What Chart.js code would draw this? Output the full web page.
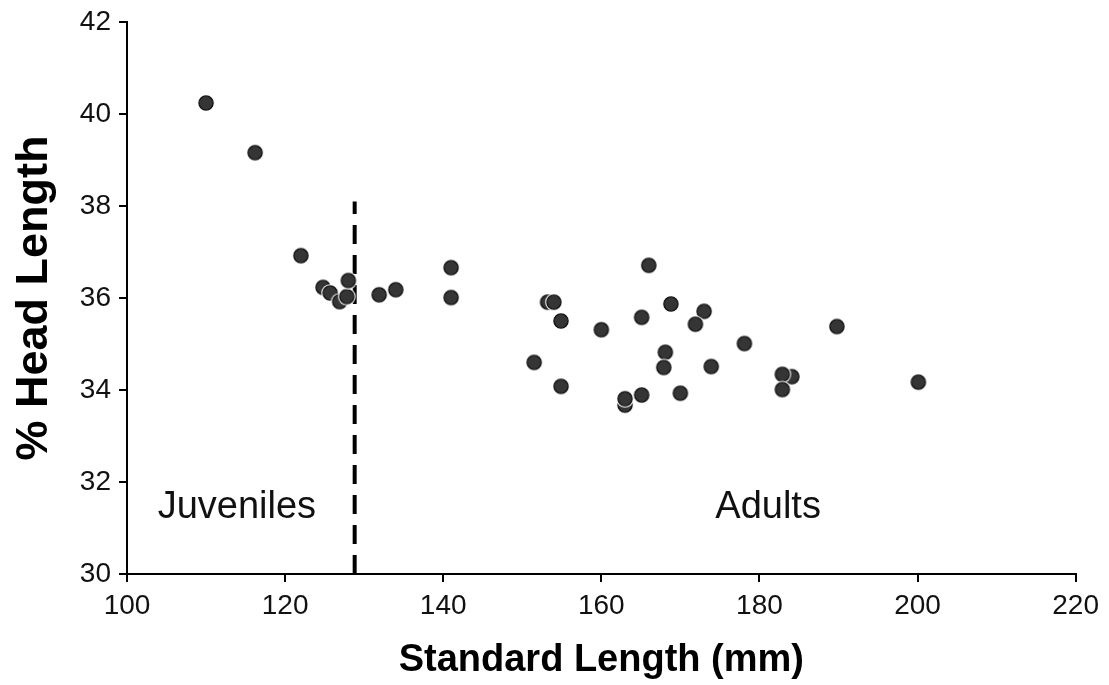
<!DOCTYPE html>
<html>
<head>
<meta charset="utf-8">
<style>
    body {
        margin: 0;
        background: #ffffff;
    }
    #chart {
        display: block;
    }
</style>
</head>
<body>
<canvas id="chart" width="1109" height="685"></canvas>

<script src="https://cdn.jsdelivr.net/npm/chart.js"></script>
<script>
    // standard length (mm) and % head length for each fish
    const standardLength = [110, 116.2, 122, 124.8, 125.7, 126.9, 127.8, 128.0, 131.9, 134.0,
        141.0, 141.0, 166.0, 153.2, 154.0, 154.9, 160.0, 165.1, 168.8, 173.0,
        171.9, 178.1, 151.5, 168.1, 167.9, 173.9, 154.9, 163.0, 163.0, 165.1,
        170.0, 189.8, 184.1, 182.9, 182.9, 200.1];
    const headLength = [40.24, 39.16, 36.92, 36.23, 36.11, 35.92, 36.03, 36.38, 36.07, 36.18,
        36.66, 36.01, 36.71, 35.91, 35.91, 35.50, 35.31, 35.58, 35.87, 35.71,
        35.43, 35.01, 34.60, 34.82, 34.49, 34.51, 34.08, 33.67, 33.81, 33.89,
        33.93, 35.38, 34.29, 34.34, 34.01, 34.17];

    // dashed divider between juveniles and adults
    const dividerX = [128.8, 128.8];
    const dividerY = [30, 38.1];

    const groupLabels = ['Juveniles', 'Adults'];
    const groupLabelX = [113.9, 181.1];
    const groupLabelY = [31.45, 31.45];

    const xTicks = [100, 120, 140, 160, 180, 200, 220];
    const yTicks = [30, 32, 34, 36, 38, 40, 42];

    const FONT = "'Liberation Sans', Arial, Helvetica, sans-serif";

    // marker: dark dot with a thin white halo
    function makeDot() {
        const c = document.createElement('canvas');
        c.width = 20;
        c.height = 20;
        const g = c.getContext('2d');
        g.beginPath();
        g.arc(10, 10, 8.8, 0, Math.PI * 2);
        g.fillStyle = '#ffffff';
        g.fill();
        g.beginPath();
        g.arc(10, 10, 7.1, 0, Math.PI * 2);
        g.fillStyle = '#353535';
        g.fill();
        g.lineWidth = 1.3;
        g.strokeStyle = '#111111';
        g.stroke();
        return c;
    }

    const groupText = {
        id: 'groupText',
        afterDatasetsDraw(chart) {
            const ctx = chart.ctx;
            const xs = chart.scales.x, ys = chart.scales.y;
            ctx.save();
            ctx.font = '38px ' + FONT;
            ctx.fillStyle = '#111111';
            ctx.textAlign = 'center';
            ctx.textBaseline = 'middle';
            groupLabels.forEach(function (t, i) {
                ctx.fillText(t, xs.getPixelForValue(groupLabelX[i]), ys.getPixelForValue(groupLabelY[i]));
            });
            ctx.restore();
        }
    };

    const points = standardLength.map(function (v, i) { return { x: v, y: headLength[i] }; });
    const divider = dividerX.map(function (v, i) { return { x: v, y: dividerY[i] }; });

    new Chart(document.getElementById('chart'), {
        type: 'scatter',
        data: {
            datasets: [{
                data: divider,
                type: 'line',
                showLine: true,
                borderColor: '#000000',
                borderWidth: 4,
                borderDash: [19, 11],
                pointRadius: 0,
                order: 2
            }, {
                data: points,
                pointStyle: makeDot(),
                pointRadius: 8,
                order: 1
            }]
        },
        options: {
            responsive: false,
            animation: false,
            layout: { padding: { top: 21, right: 33, left: 0, bottom: 0 } },
            plugins: {
                legend: { display: false },
                tooltip: { enabled: false }
            },
            scales: {
                x: {
                    type: 'linear',
                    min: 100,
                    max: 220,
                    afterBuildTicks(s) { s.ticks = xTicks.map(function (v) { return { value: v }; }); },
                    afterFit(s) { s.height = 111; },
                    grid: { drawOnChartArea: false, drawTicks: true, tickLength: 8, color: '#000000', lineWidth: 2 },
                    border: { color: '#000000', width: 2 },
                    ticks: { color: '#111111', padding: 10, font: { family: FONT, size: 28, lineHeight: 1 } },
                    title: {
                        display: true,
                        text: 'Standard Length (mm)',
                        color: '#000000',
                        padding: { top: 0, bottom: 2 },
                        font: { family: FONT, size: 38, weight: 'bold' }
                    }
                },
                y: {
                    type: 'linear',
                    min: 30,
                    max: 42,
                    afterBuildTicks(s) { s.ticks = yTicks.map(function (v) { return { value: v }; }); },
                    afterFit(s) { s.width = 127; },
                    grid: { drawOnChartArea: false, drawTicks: true, tickLength: 8, color: '#000000', lineWidth: 2 },
                    border: { color: '#000000', width: 2 },
                    ticks: { color: '#111111', padding: 8, font: { family: FONT, size: 28, lineHeight: 1 } },
                    title: {
                        display: true,
                        text: '% Head Length',
                        color: '#000000',
                        padding: { top: 8, bottom: 0 },
                        font: { family: FONT, size: 45, weight: 'bold' }
                    }
                }
            }
        },
        plugins: [groupText]
    });
</script>
</body>
</html>
